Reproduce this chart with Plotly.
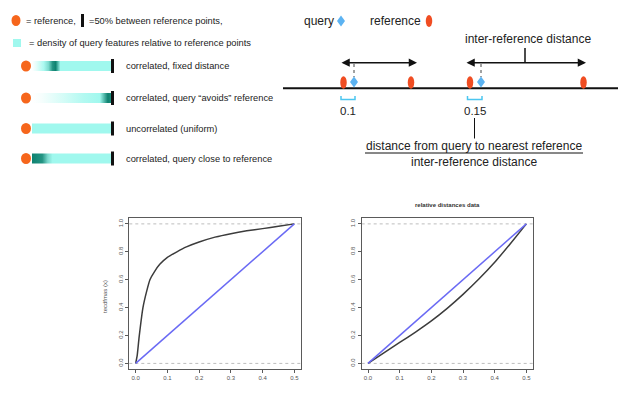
import plotly.graph_objects as go

W, H = 618, 394
FONT = "Liberation Sans, Arial, Helvetica, sans-serif"

# ---------------- schematic content ----------------
row_labels = [
    "correlated, fixed distance",
    "correlated, query \u201cavoids\u201d reference",
    "uncorrelated (uniform)",
    "correlated, query close to reference",
]
# density of query features along the span reference -> midpoint
# (position along span 0..1, density level: 0 none, 1 uniform, 2 enriched)
density_profiles = [
    [(0.0, 0.0), (0.06, 0.3), (0.15, 0.9), (0.21, 1.25), (0.26, 1.85), (0.30, 2.0), (0.33, 1.5), (0.36, 1.0), (1.0, 1.0)],
    [(0.0, 0.0), (0.12, 0.1), (0.4, 0.45), (0.65, 0.8), (0.86, 1.0), (0.9, 1.4), (0.96, 2.0), (1.0, 1.9)],
    [(0.0, 1.0), (1.0, 1.0)],
    [(0.0, 2.0), (0.13, 1.85), (0.2, 1.25), (0.26, 1.0), (1.0, 1.0)],
]
fraction_labels = ["0.1", "0.15"]

# number-line layout (schematic units = page pixels)
reference_pos = [343.5, 411, 470, 583.5]
query_pos = [354, 481]
span_pairs = [(340, 417), (465, 586)]

# ---------------- relative-distance ECDFs ----------------
x_ticks = [0.0, 0.1, 0.2, 0.3, 0.4, 0.5]
y_ticks = [0.0, 0.2, 0.4, 0.6, 0.8, 1.0]
close_x = [0, 0.005, 0.011, 0.023, 0.035, 0.045, 0.06, 0.076, 0.1, 0.13, 0.16, 0.2, 0.25, 0.3, 0.35, 0.4, 0.45, 0.5]
close_y = [0, 0.06, 0.19, 0.40, 0.52, 0.60, 0.66, 0.71, 0.76, 0.80, 0.835, 0.87, 0.905, 0.93, 0.95, 0.966, 0.983, 1.0]
data_x = [0, 0.05, 0.1, 0.15, 0.2, 0.25, 0.3, 0.35, 0.4, 0.45, 0.5]
data_y = [0, 0.075, 0.15, 0.225, 0.305, 0.395, 0.495, 0.605, 0.725, 0.86, 1.0]
uniform_x = [0.0, 0.5]
uniform_y = [0.0, 1.0]

WHITE = (255, 255, 255)
CYAN = (160, 248, 238)
TEAL = (14, 130, 112)
ORANGE = "#f6661c"
RED_ORANGE = "#f04d22"
QUERY_BLUE = "#5cb3f2"


def level_color(v):
    if v <= 1:
        a, b, t = WHITE, CYAN, v
    else:
        a, b, t = CYAN, TEAL, v - 1
    c = [round(a[i] + (b[i] - a[i]) * t) for i in range(3)]
    return "rgb(%d,%d,%d)" % tuple(c)


fig = go.Figure()
shapes = []
annotations = []


def text(x, y, s, size, anchor="left", color="#222", **kw):
    annotations.append(dict(x=x, y=y, xref="x", yref="y", text=s, showarrow=False,
                            xanchor=anchor, yanchor="middle",
                            font=dict(family=FONT, size=size, color=color), **kw))


def ellipse(cx, cy, w, h, color):
    shapes.append(dict(type="circle", xref="x", yref="y", x0=cx - w / 2, x1=cx + w / 2,
                       y0=cy - h / 2, y1=cy + h / 2, fillcolor=color, line=dict(width=0)))


def diamond(cx, cy, w, h, color):
    path = "M %g,%g L %g,%g L %g,%g L %g,%g Z" % (cx, cy - h / 2, cx + w / 2, cy, cx, cy + h / 2, cx - w / 2, cy)
    shapes.append(dict(type="path", xref="x", yref="y", path=path, fillcolor=color, line=dict(width=0)))


def rect(x0, y0, x1, y1, color):
    shapes.append(dict(type="rect", xref="x", yref="y", x0=x0, x1=x1, y0=y0, y1=y1,
                       fillcolor=color, line=dict(width=0)))


def line(x0, y0, x1, y1, color="#111", width=1, dash="solid"):
    shapes.append(dict(type="line", xref="x", yref="y", x0=x0, x1=x1, y0=y0, y1=y1,
                       line=dict(color=color, width=width, dash=dash)))


# ---- left key ----
ellipse(16, 20.5, 9, 11, ORANGE)
text(24, 20.5, "= reference,", 9.3)
rect(81, 14, 84, 27, "#111")
text(87, 20.5, "=50% between reference points,", 9.3)
rect(13, 39, 21, 47, level_color(1))
text(27, 43, "= density of query features relative to reference points", 9.3)

row_y = [66, 98, 128.5, 158.5]
for label, profile, cy in zip(row_labels, density_profiles, row_y):
    ellipse(26, cy, 10, 11, ORANGE)
    fig.add_trace(go.Scatter(
        x=[32, 111, 111, 32, 32], y=[cy - 5, cy - 5, cy + 5, cy + 5, cy - 5],
        mode="lines", fill="toself", line=dict(width=0),
        fillgradient=dict(type="horizontal",
                          colorscale=[[p, level_color(v)] for p, v in profile]),
        hoverinfo="skip", showlegend=False, xaxis="x", yaxis="y"))
    rect(111, cy - 7, 114, cy + 7, "#111")
    text(124, cy, label, 9.3)

# ---- number line diagram ----
text(302, 21, "query", 12)
diamond(341, 21, 8, 11, QUERY_BLUE)
text(368, 21, "reference", 12)
ellipse(429, 21, 6.5, 12, RED_ORANGE)

text(528, 39, "inter-reference distance", 12, anchor="center")
line(525, 48, 525, 63, width=1.5)
for x0, x1 in span_pairs:
    annotations.append(dict(x=x1, y=62.7, ax=x0, ay=62.7, xref="x", yref="y", axref="x", ayref="y",
                            text="", showarrow=True, arrowhead=2, arrowside="end+start",
                            arrowsize=1.1, arrowwidth=1.5, arrowcolor="#111"))

line(283, 88.3, W, 88.3, width=2)
for rx in reference_pos:
    ellipse(rx, 82.5, 6.5, 12.5, RED_ORANGE)
for qx in query_pos:
    line(qx, 64, qx, 77, color="#444", width=1, dash="dot")
    diamond(qx, 82, 8, 11, QUERY_BLUE)

for rx, qx, lab in zip(reference_pos[::2], query_pos, fraction_labels):
    x0, x1 = rx - 2.5, qx + 1
    shapes.append(dict(type="path", xref="x", yref="y",
                       path="M %g,96 L %g,99.5 L %g,99.5 L %g,96" % (x0, x0, x1, x1),
                       line=dict(color="#4cc6f0", width=1.5)))
    text((x0 + x1) / 2, 111, lab, 11.5, anchor="center")

line(474.5, 118, 474.5, 138.5, width=1)
text(474, 146, "distance from query to nearest reference", 12, anchor="center")
line(365, 153, 583, 153, width=1)
text(474, 161.5, "inter-reference distance", 12, anchor="center")

# ---- ECDF panels ----
for xa, ya, xs, ys in (("x2", "y2", close_x, close_y), ("x3", "y3", data_x, data_y)):
    fig.add_trace(go.Scatter(x=xs, y=ys, mode="lines",
                             line=dict(color="#3c3c3c", width=1.5, shape="spline", smoothing=0.5),
                             xaxis=xa, yaxis=ya, showlegend=False, hoverinfo="skip"))
    fig.add_trace(go.Scatter(x=uniform_x, y=uniform_y, mode="lines",
                             line=dict(color="#6a6af4", width=1.5),
                             xaxis=xa, yaxis=ya, showlegend=False, hoverinfo="skip"))
    for yv in (0, 1):
        shapes.append(dict(type="line", xref=xa + " domain", yref=ya, x0=0, x1=1, y0=yv, y1=yv,
                           line=dict(color="#bdbdbd", width=1, dash="dot"), layer="below"))

text(105, 297, "tecdfmas (x)", 6, anchor="center", color="#555", textangle=-90)
text(447, 205, "<b>relative distances data</b>", 6, anchor="center", color="#333")
text(215, 395, "x", 7, anchor="center", color="#555")
text(447, 395, "x", 7, anchor="center", color="#555")

y_dom = [(H - 369) / H, (H - 218.3) / H]
axis_common = dict(showgrid=False, zeroline=False, showline=True, mirror=True,
                   linecolor="#5a5a5a", linewidth=1, ticks="outside", ticklen=3,
                   tickcolor="#5a5a5a", tickwidth=1,
                   tickfont=dict(family=FONT, size=6, color="#555"), fixedrange=True)

fig.update_layout(
    width=W, height=H, margin=dict(l=0, r=0, t=0, b=0),
    paper_bgcolor="white", plot_bgcolor="rgba(0,0,0,0)", showlegend=False,
    xaxis=dict(domain=[0, 1], range=[0, W], visible=False, fixedrange=True),
    yaxis=dict(domain=[0, 1], range=[H, 0], visible=False, fixedrange=True),
    xaxis2=dict(domain=[129.3 / W, 300.7 / W], anchor="y2", range=[-0.02, 0.52],
                tickvals=x_ticks, ticktext=["%.1f" % v for v in x_ticks], **axis_common),
    yaxis2=dict(domain=y_dom, anchor="x2", range=[-0.04, 1.04], tickangle=-90,
                tickvals=y_ticks, ticktext=["%.1f" % v for v in y_ticks], **axis_common),
    xaxis3=dict(domain=[361.7 / W, 532.7 / W], anchor="y3", range=[-0.02, 0.52],
                tickvals=x_ticks, ticktext=["%.1f" % v for v in x_ticks], **axis_common),
    yaxis3=dict(domain=y_dom, anchor="x3", range=[-0.04, 1.04], tickangle=-90,
                tickvals=y_ticks, ticktext=["%.1f" % v for v in y_ticks], **axis_common),
    shapes=shapes, annotations=annotations,
)

fig.write_html("out.html")
